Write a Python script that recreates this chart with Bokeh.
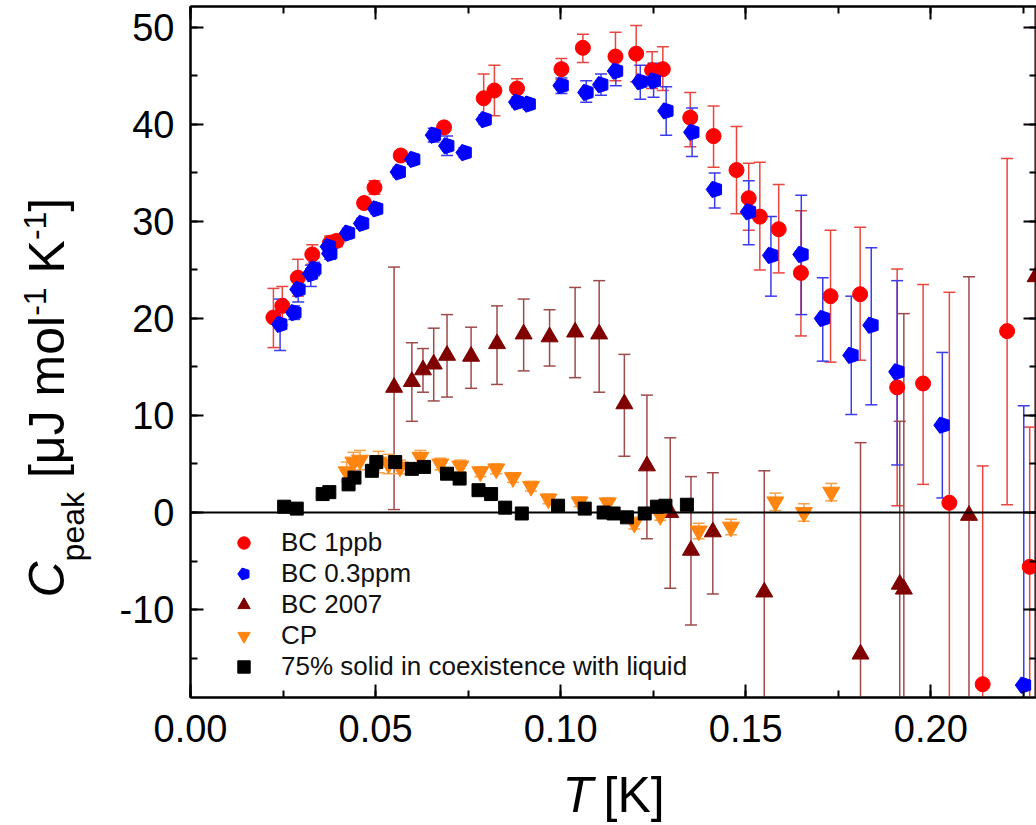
import math
from bokeh.plotting import figure
from bokeh.layouts import column, row
from bokeh.models import (Span, Legend, LegendItem, LinearAxis, Range1d,
                          SingleIntervalTicker, NumeralTickFormatter, PrintfTickFormatter,
                          CustomJSTickFormatter)
from bokeh.core.properties import value
from bokeh.embed import file_html
from bokeh.resources import INLINE

# ---------------- data ----------------
bc1_T = [0.0224, 0.0248, 0.0290, 0.0329, 0.0377, 0.0395, 0.0469, 0.0497, 0.0568, 0.0685,
         0.0792, 0.0821, 0.0882, 0.1002, 0.1060, 0.1148, 0.1204, 0.1247, 0.1276, 0.1350,
         0.1413, 0.1475, 0.1508, 0.1538, 0.1589, 0.1649, 0.1729, 0.1809, 0.1909, 0.1979,
         0.2050, 0.2140, 0.2206, 0.2267]
bc1_C = [20.1, 21.3, 24.2, 26.6, 27.8, 28.0, 31.9, 33.5, 36.8, 39.7,
         42.7, 43.5, 43.7, 45.7, 47.9, 47.0, 47.3, 45.6, 45.7, 40.7,
         38.8, 35.3, 32.4, 30.5, 29.2, 24.7, 22.3, 22.5, 12.9, 13.3,
         1.0, -17.7, 18.7, -5.6]
bc1_hi = [23.1, 23.3, 26.1, 27.6, 28.5, 28.6, 32.4, 34.2, 37.3, 40.2,
          45.2, 46.1, 44.7, 46.8, 49.3, 49.5, 50.2, 47.5, 48.0, 43.3,
          41.9, 39.8, 36.0, 36.1, 33.8, 31.1, 29.1, 29.4, 25.1, 23.5,
          22.7, 4.8, 36.5, 8.8]
bc1_lo = [17.0, 19.3, 22.3, 25.6, 27.1, 27.4, 31.4, 32.8, 36.3, 39.2,
          40.2, 40.9, 42.7, 44.6, 46.4, 44.5, 44.4, 43.7, 43.5, 37.7,
          35.6, 30.8, 29.1, 25.0, 24.7, 18.2, 15.5, 15.7, 0.7, 2.9,
          -30.0, -30.0, 0.8, -30.0]

bc03_T = [0.0242, 0.0280, 0.0291, 0.0325, 0.0334, 0.0373, 0.0377, 0.0425, 0.0463, 0.0501,
          0.0562, 0.0601, 0.0657, 0.0693, 0.0740, 0.0794, 0.0882, 0.0913, 0.1002, 0.1069,
          0.1109, 0.1149, 0.1215, 0.1251, 0.1285, 0.1355, 0.1416, 0.1508, 0.1568, 0.1650,
          0.1708, 0.1785, 0.1839, 0.1909, 0.2031, 0.2251]
bc03_C = [19.4, 20.6, 23.0, 24.6, 25.1, 27.4, 26.7, 28.8, 29.8, 31.3,
          35.1, 36.4, 38.9, 37.8, 37.1, 40.5, 42.3, 42.1, 44.0, 43.3,
          44.1, 45.5, 44.4, 44.5, 41.4, 39.2, 33.3, 31.0, 26.5, 26.6,
          20.0, 16.2, 19.3, 14.5, 9.0, -17.8]
bc03_hi = [22.0, 21.3, 24.3, 25.5, 25.8, 28.0, 27.3, 29.3, 30.3, 31.8,
           35.6, 36.9, 39.6, 38.8, 37.6, 41.0, 42.8, 42.6, 44.8, 44.5,
           45.2, 46.9, 46.1, 46.3, 43.9, 41.7, 35.0, 34.2, 30.5, 32.7,
           24.2, 22.3, 27.3, 23.9, 16.5, 11.0]
bc03_lo = [16.7, 19.9, 21.7, 23.3, 24.4, 26.8, 26.1, 28.3, 29.3, 30.8,
           34.6, 35.9, 38.2, 36.8, 36.6, 40.0, 41.8, 41.6, 43.2, 42.3,
           43.0, 44.0, 42.6, 42.8, 38.9, 36.7, 31.4, 27.6, 22.3, 20.4,
           15.6, 10.1, 11.1, 4.9, 1.5, -30.0]

bc07_T = [0.0550, 0.0598, 0.0628, 0.0657, 0.0693, 0.0758, 0.0828, 0.0900, 0.0970, 0.1039,
          0.1104, 0.1172, 0.1233, 0.1296, 0.1352, 0.1411, 0.1550, 0.1810, 0.1916, 0.1927,
          0.2103, 0.2283]
bc07_C = [12.9, 13.5, 14.7, 15.3, 16.2, 16.1, 17.4, 18.4, 18.1, 18.6,
          18.4, 11.2, 4.8, 0.0, -3.9, -2.0, -8.2, -14.6, -7.4, -7.9,
          -0.3, 24.3]
bc07_hi = [25.3, 17.5, 16.9, 19.0, 20.4, 19.1, 21.3, 22.0, 20.9, 23.2,
           23.9, 16.3, 12.1, 7.7, 3.7, 4.1, 4.3, 7.2, 9.4, 20.5,
           24.3, 60.0]
bc07_lo = [0.3, 9.4, 12.4, 11.5, 11.9, 12.8, 13.2, 14.6, 15.1, 13.9,
           12.4, 5.8, -2.7, -7.8, -11.6, -8.4, -30.0, -30.0, -30.0, -30.0,
           -30.0, -30.0]

cp_T = [0.0422, 0.0440, 0.0458, 0.0508, 0.0535, 0.0566, 0.0621, 0.0675, 0.0729, 0.0783,
        0.0826, 0.0871, 0.0920, 0.0967, 0.1051, 0.1127, 0.1199, 0.1269, 0.1373, 0.1460,
        0.1580, 0.1657, 0.1731]
cp_C = [4.2, 5.2, 5.4, 5.2, 5.0, 4.7, 5.7, 5.0, 4.8, 4.2,
        4.5, 3.6, 2.7, 1.4, 1.1, 1.0, -1.1, -0.3, -1.9, -1.5,
        1.1, 0.0, 2.1]
cp_err = [1.0, 1.0, 1.0, 1.1, 1.0, 0.7, 0.7, 0.6, 0.6, 0.5,
          0.5, 0.5, 0.5, 0.5, 0.5, 0.5, 0.6, 0.5, 0.8, 0.8,
          0.9, 0.9, 0.9]

sol_T = [0.0253, 0.0287, 0.0357, 0.0375, 0.0427, 0.0443, 0.0490, 0.0502, 0.0553, 0.0598,
         0.0631, 0.0693, 0.0727, 0.0778, 0.0812, 0.0850, 0.0895, 0.0993, 0.1065, 0.1116,
         0.1143, 0.1179, 0.1227, 0.1260, 0.1283, 0.1341]
sol_C = [0.6, 0.4, 1.9, 2.1, 2.9, 3.6, 4.3, 5.2, 5.2, 4.5,
         4.7, 4.0, 3.5, 2.3, 1.9, 0.5, -0.1, 0.7, 0.4, 0.0,
         -0.1, -0.5, -0.1, 0.6, 0.7, 0.8]

legend_labels = ["BC 1ppb", "BC 0.3ppm", "BC 2007", "CP", "75% solid in coexistence with liquid"]

FONT = "Liberation Sans"

# ---------------- layout geometry ----------------
TOTAL_W, TOTAL_H = 1036, 825
YT_W = 100            # strip holding the rotated y title
MAIN_H = 760          # main figure height
XT_H = TOTAL_H - MAIN_H
F_TOP, F_BOT, F_LEFT = 6, 697, 190
X0, X1 = 0.0, 0.22854
Y0, Y1 = -19.07, 52.16

p = figure(width=TOTAL_W - YT_W, height=MAIN_H, x_range=(X0, X1), y_range=(Y0, Y1),
           output_backend="svg", toolbar_location=None,
           min_border_left=F_LEFT - YT_W, min_border_right=0, min_border_top=F_TOP,
           min_border_bottom=MAIN_H - F_BOT,
           background_fill_color="white", border_fill_color="white")
p.xgrid.visible = False
p.ygrid.visible = False
p.outline_line_color = "black"
p.outline_line_width = 2

for ax in p.xaxis:
    ax.ticker = SingleIntervalTicker(interval=0.05, num_minor_ticks=2)
    ax.formatter = NumeralTickFormatter(format="0.00")
for ax in p.yaxis:
    ax.ticker = SingleIntervalTicker(interval=10, num_minor_ticks=2)
    ax.formatter = PrintfTickFormatter(format="%d")

def style_axis(ax):
    ax.axis_line_width = 2
    ax.axis_line_color = "black"
    ax.major_tick_in = 13
    ax.major_tick_out = 0
    ax.minor_tick_in = 7
    ax.minor_tick_out = 0
    ax.major_tick_line_width = 2
    ax.minor_tick_line_width = 2
    ax.major_tick_line_color = "black"
    ax.minor_tick_line_color = "black"
    ax.major_label_text_font = FONT
    ax.major_label_text_color = "black"
    ax.major_label_text_font_size = "38px"

style_axis(p.xaxis[0])
style_axis(p.yaxis[0])
p.xaxis[0].major_label_standoff = 17
p.yaxis[0].major_label_standoff = 16

top = LinearAxis(ticker=SingleIntervalTicker(interval=0.05, num_minor_ticks=2),
                 formatter=CustomJSTickFormatter(code="return ''"))
style_axis(top)
top.major_label_standoff = 0
p.add_layout(top, "above")

right = LinearAxis(ticker=SingleIntervalTicker(interval=10, num_minor_ticks=2),
                   formatter=CustomJSTickFormatter(code="return ''"))
style_axis(right)
right.major_label_standoff = 0
p.add_layout(right, "right")

p.add_layout(Span(location=0, dimension="width", line_color="black", line_width=2))

# ---------------- error bars ----------------
def errbars(T, hi, lo, color):
    p.segment(x0=T, y0=lo, x1=T, y1=hi, line_color=color, line_width=1.5)
    p.scatter(x=T, y=hi, marker="dash", size=12, line_color=color, line_width=1.5)
    p.scatter(x=T, y=lo, marker="dash", size=12, line_color=color, line_width=1.5)

errbars(bc1_T, bc1_hi, bc1_lo, "#e8463f")
errbars(bc03_T, bc03_hi, bc03_lo, "#3b3bf0")
errbars(bc07_T, bc07_hi, bc07_lo, "#9e4a4a")
errbars(cp_T, [c + e for c, e in zip(cp_C, cp_err)], [c - e for c, e in zip(cp_C, cp_err)], "#f5a24a")

# ---------------- markers ----------------
r_bc1 = p.scatter(x=bc1_T, y=bc1_C, marker="circle", size=15, fill_color="#ff0000", line_color="#ff0000")
try:
    r_bc03 = p.ngon(x=bc03_T, y=bc03_C, radius=8.5, radius_units="screen", n=5, angle=math.pi / 2,
                    fill_color="#0000ff", line_color="#0000ff")
except Exception:
    r_bc03 = p.scatter(x=bc03_T, y=bc03_C, marker="hex", size=16, fill_color="#0000ff", line_color="#0000ff")
r_bc07 = p.scatter(x=bc07_T, y=bc07_C, marker="triangle", size=17, fill_color="#800000", line_color="#800000")
r_cp = p.scatter(x=cp_T, y=cp_C, marker="inverted_triangle", size=17, fill_color="#ff8410", line_color="#ff8410")
r_sol = p.scatter(x=sol_T, y=sol_C, marker="square", size=13, fill_color="#000000", line_color="#000000")

legend = Legend(items=[LegendItem(label=l, renderers=[r]) for l, r in
                       zip(legend_labels, [r_bc1, r_bc03, r_bc07, r_cp, r_sol])],
                location=(38, 15), orientation="vertical",
                border_line_color=None, background_fill_alpha=0,
                padding=0, margin=0, spacing=0,
                glyph_width=31, glyph_height=31, label_standoff=22,
                label_text_font=FONT, label_text_font_size="26px", label_text_color="#111111")
p.add_layout(legend, "center")

# ---------------- axis titles in their own strips ----------------
def strip(w, h, xr, yr, bt=0, bb=0):
    f = figure(width=w, height=h, x_range=Range1d(*xr), y_range=Range1d(*yr),
               x_axis_type=None, y_axis_type=None, output_backend="svg", toolbar_location=None,
               min_border=0, min_border_left=0, min_border_right=0, min_border_top=bt,
               min_border_bottom=bb, outline_line_color=None,
               background_fill_color="white", border_fill_color="white")
    f.xgrid.visible = False
    f.ygrid.visible = False
    return f

ARIAL = {" ": .278, "[": .278, "]": .278, "\u03bc": .576, "J": .5, "m": .833, "o": .556,
         "l": .222, "K": .667, "-": .333, "1": .556, "C": .722, "p": .556, "e": .556,
         "a": .556, "k": .5, "T": .611}
def width(s, fs):
    return sum(ARIAL.get(ch, .556) for ch in s) * fs

# baseline correction observed for Bokeh's text glyph (fraction of font size)
BL = 0.33

# y strip: frame matches the main frame vertically, data y == page y
yfig = strip(YT_W, MAIN_H, (0, YT_W), (F_BOT, F_TOP), bt=F_TOP, bb=MAIN_H - F_BOT)
# (text, font px, style, baseline x, gap before in px)
pieces = [("C", 50, "italic", 63, 0), ("peak", 32, "normal", 83, 0),
          ("[\u03bcJ mol", 50, "normal", 63, 14), ("-1", 32, "normal", 45, 0),
          ("K", 50, "normal", 63, 14), ("-1", 32, "normal", 45, 0),
          ("]", 50, "normal", 63, 0)]
ypos = 597.0
for txt, fs, style, bx, gap in pieces:
    ypos -= gap
    yfig.text(x=[bx - BL * fs], y=[ypos], text=[txt], angle=math.pi / 2,
              text_font=value(FONT), text_font_size=value(f"{fs}px"),
              text_font_style=value(style), text_align="left",
              text_baseline="alphabetic", text_color="black")
    ypos -= width(txt, fs)

# x strip: data coords == page coords
xfig = strip(TOTAL_W, XT_H, (0, TOTAL_W), (TOTAL_H, MAIN_H))
xfig.text(x=[562], y=[811 - BL * 50], text=["T"], text_font=value(FONT),
          text_font_size=value("50px"), text_font_style=value("italic"),
          text_align="left", text_baseline="alphabetic", text_color="black")
xfig.text(x=[603], y=[811 - BL * 50], text=["[K]"], text_font=value(FONT),
          text_font_size=value("50px"), text_font_style=value("normal"),
          text_align="left", text_baseline="alphabetic", text_color="black")

layout = column(row(yfig, p, spacing=0), xfig, spacing=0)
open("out.html", "w").write(file_html(layout, INLINE))
